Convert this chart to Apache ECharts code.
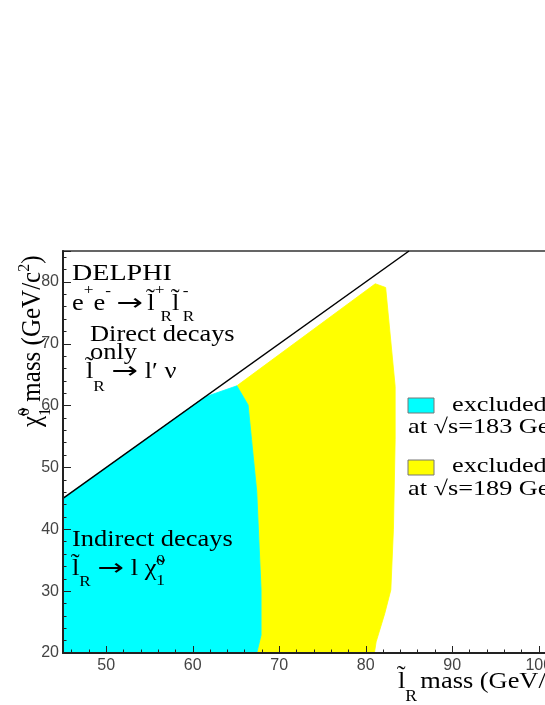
<!DOCTYPE html>
<html>
<head>
<meta charset="utf-8">
<script src="https://cdn.jsdelivr.net/npm/echarts@6/dist/echarts.min.js"></script>
<style>
html, body { margin: 0; padding: 0; background: #fff; }
#main { width: 545px; height: 705px; }
</style>
</head>
<body>
<div id="main"></div>
<script>
// kinematic limit: neutralino mass = slepton mass
var limitLine = [[45, 45], [85, 85]];
// left part of the 183 GeV region (along the kinematic limit)
var cyanStart = [[45, 20], [45, 45], [61.4, 61.4]];
// border between 183 and 189 GeV regions, top corner -> bottom
var cyanEdge = [[65.1, 63.2], [66.4, 60.1], [66.8, 54.5], [67.4, 46.1], [67.9, 30.2], [67.9, 22.9], [67.4, 20]];
// outer edge of the 189 GeV region, top corner -> bottom
var yellowEdge = [[65.1, 63.2], [81.1, 79.7], [82.3, 79.1], [83.4, 63.1], [83.4, 54.5], [83.2, 40],
                  [82.9, 30.2], [82.2, 26.4], [81.2, 21.8], [81.0, 20]];
var xTickLabels = [50, 60, 70, 80, 90, 100];
var yTickLabels = [20, 30, 40, 50, 60, 70, 80];

var cyanPoly = cyanStart.concat(cyanEdge);
var yellowPoly = yellowEdge.concat(cyanEdge.slice().reverse());

var SERIF = '"Liberation Serif", "Times New Roman", serif';
var ctx = document.createElement('canvas').getContext('2d');

// one line of text with sub/superscripts; k: n normal, p sup, P sup without advance, b sub
function textLine(x, y, parts, size, sx, extra) {
	var small = Math.round(size * 0.65);
	var cx = 0, kids = [];
	parts.forEach(function (p) {
		var fs = p.k === 'n' ? size : small;
		var dy = p.dy != null ? p.dy : (p.k === 'b' ? 10.5 : p.k === 'n' ? 0 : -11);
		var f = fs + 'px ' + (p.f || SERIF);
		var tsx = p.sx || 1;
		cx += (p.dx || 0);
		kids.push({
			type: 'text', x: cx, y: dy - 0.34 * fs, z: 100, scaleX: tsx,
			style: { text: p.t, font: f, fill: '#000', align: 'left', textAlign: 'left',
				verticalAlign: 'middle', textVerticalAlign: 'middle' }
		});
		ctx.font = f;
		if (p.k !== 'P') cx += ctx.measureText(p.t).width * tsx;
	});
	var g = { type: 'group', x: x, y: y, scaleX: sx, scaleY: 1, z: 100, children: kids };
	for (var key in extra) g[key] = extra[key];
	return g;
}
function n(t, dx) { return { t: t, k: 'n', dx: dx || 0 }; }
function arrow(dx) { return { t: '\u2192', k: 'n', f: '"DejaVu Sans"', sx: 1.2, dx: dx || 0 }; }

function polySeries(name, pts, color, z) {
	return {
		type: 'custom', name: name, data: pts, z: z, silent: true, animation: false,
		renderItem: function (params, api) {
			if (params.dataIndex) return null;
			return {
				type: 'polygon',
				shape: { points: pts.map(function (p) { return api.coord(p); }) },
				style: { fill: color, stroke: color, lineWidth: 0.8 }
			};
		}
	};
}

var LT = 'l\u0303';
var graphics = [
	textLine(72, 282, [n('DELPHI')], 23, 1.22),
	textLine(72, 312, [n('e'), { t: '+', k: 'p', dy: -17 }, n('e'), { t: '-', k: 'p', dy: -16 }, n(' '), arrow(-1), n(' '),
		n(LT, -2), { t: '+', k: 'P', dy: -17 }, { t: 'R', k: 'b', dx: 5 }, n(LT), { t: '-', k: 'P', dy: -16, dx: 3 }, { t: 'R', k: 'b' }], 23, 1.15),
	textLine(90, 343, [n('Direct decays')], 23, 1.15),
	textLine(90, 361, [n('only')], 23, 1.15),
	textLine(86, 380, [n(LT), { t: 'R', k: 'b', dy: 12 }, n(' '), arrow(), n(' l\u2032 \u03bd')], 23, 1.15),
	textLine(72, 548, [n('Indirect decays')], 23, 1.15),
	textLine(72, 577, [n(LT), { t: 'R', k: 'b' }, n(' '), arrow(), n(' l '), n('\u03c7\u0303'),
		{ t: '0', k: 'P', dy: -10.6 }, { t: '1', k: 'b', dy: 9.4 }], 23, 1.15),
	// axis titles
	textLine(398, 690, [n(LT), { t: 'R', k: 'b', dy: 12 }, n(' mass (GeV/c', -3), { t: '2', k: 'p' }, n(')')], 24, 1.1),
	textLine(41.7, 427, [n('\u03c7\u0303'), { t: '0', k: 'P', dy: -11 }, { t: '1', k: 'b', dy: 9 }, n(' mass (GeV/c'), { t: '2', k: 'p' }, n(')')], 25, 1,
		{ rotation: Math.PI / 2, scaleY: 1.07 }),
	// legend
	{ type: 'rect', x: 408, y: 398, z: 100, shape: { width: 26, height: 15 }, style: { fill: '#00ffff', stroke: '#777', lineWidth: 1 } },
	textLine(452, 413, [n('excluded')], 21, 1.25),
	textLine(408, 435, [n('at \u221as=183 GeV')], 21, 1.25),
	{ type: 'rect', x: 408, y: 460, z: 100, shape: { width: 26, height: 15 }, style: { fill: '#ffff00', stroke: '#777', lineWidth: 1 } },
	textLine(452, 474, [n('excluded')], 21, 1.25),
	textLine(408, 497, [n('at \u221as=189 GeV')], 21, 1.25)
];

var axisCommon = {
	type: 'value', z: 10,
	axisLine: { show: true, lineStyle: { color: '#222', width: 2 } },
	axisTick: { show: true, inside: true, length: 7, lineStyle: { color: '#222', width: 1 } },
	minorTick: { show: true, splitNumber: 5, length: 3.5, lineStyle: { color: '#222', width: 1 } },
	splitLine: { show: false },
	minorSplitLine: { show: false }
};

var myChart = echarts.init(document.getElementById('main'), null, { renderer: 'canvas' });
var option = {
	animation: false,
	backgroundColor: '#fff',
	grid: { left: 63, top: 251, right: -37, bottom: 52, show: true, borderColor: '#333', borderWidth: 1.5,
		containLabel: false, outerBoundsMode: 'none' },
	xAxis: Object.assign({}, axisCommon, {
		min: 45, max: 105, splitNumber: 6,
		axisLabel: { margin: 5, color: '#444', fontSize: 16, fontFamily: 'Liberation Sans',
			formatter: function (v) { return xTickLabels.indexOf(v) >= 0 ? String(v) : ''; } }
	}),
	yAxis: Object.assign({}, axisCommon, {
		min: 20, max: 85, interval: 10,
		axisTick: { show: true, inside: true, length: 8, lineStyle: { color: '#222', width: 1 } },
		axisLabel: { margin: 4, color: '#444', fontSize: 16, fontFamily: 'Liberation Sans',
			formatter: function (v) { return yTickLabels.indexOf(v) >= 0 ? String(v) : ''; } }
	}),
	series: [
		polySeries('189', yellowPoly, '#ffff00', 2),
		polySeries('183', cyanPoly, '#00ffff', 3),
		{ type: 'line', data: limitLine, symbol: 'none', z: 5, silent: true,
			lineStyle: { color: '#000', width: 1.5 } }
	],
	graphic: graphics
};
myChart.setOption(option);
</script>
</body>
</html>
